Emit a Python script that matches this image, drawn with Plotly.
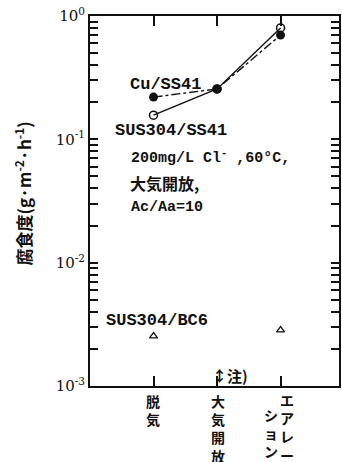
import plotly.graph_objects as go

categories = [0, 1, 2]
cu_ss41 = [0.22, 0.256, 0.70]
sus_ss41 = [0.157, 0.256, 0.80]
bc6_x = [0, 2]
bc6 = [0.00254, 0.00284]
ytick_vals = [1e-3, 1e-2, 1e-1, 1]
ytick_text = ["10<sup>-3</sup>", "10<sup>-2</sup>", "10<sup>-1</sup>", "10<sup>0</sup>"]
all_vals = [m * 10 ** e for e in (-3, -2, -1) for m in range(1, 10)] + [1]
all_text = [(ytick_text[ytick_vals.index(v)] if v in ytick_vals else "") for v in all_vals]

JP = "Noto Sans CJK JP"
MONO = "Liberation Mono"
W, H = 342, 462
L, R, T, B = 90, 1, 16, 76
PW, PH = W - L - R, H - T - B

fig = go.Figure()
fig.add_trace(go.Scatter(x=categories, y=sus_ss41, mode="lines+markers",
                         line=dict(color="#111", width=1.4),
                         marker=dict(symbol="circle-open", size=8, color="#111", line=dict(width=1.5))))
fig.add_trace(go.Scatter(x=categories, y=cu_ss41, mode="lines+markers",
                         line=dict(color="#111", width=1.4, dash="dashdot"),
                         marker=dict(symbol="circle", size=9, color="#111")))
fig.add_trace(go.Scatter(x=bc6_x, y=bc6, mode="markers",
                         marker=dict(symbol="triangle-up-open", size=7, color="#111", line=dict(width=1.3))))

fig.update_layout(
    width=W, height=H, showlegend=False,
    margin=dict(l=L, r=R, t=T, b=B),
    plot_bgcolor="white", paper_bgcolor="white",
    font=dict(family=MONO, color="#111"),
    xaxis=dict(range=[-1, 2.92], showline=True, linewidth=2, linecolor="#111", mirror="ticks",
               tickvals=categories, ticktext=["", "", ""], ticks="inside", ticklen=10, tickwidth=2,
               tickcolor="#111", showgrid=False, zeroline=False),
    yaxis=dict(type="log", range=[-3, 0], showline=True, linewidth=2, linecolor="#111", mirror="ticks",
               tickmode="array", tickvals=all_vals, ticktext=all_text, ticks="inside", ticklen=8,
               tickwidth=1.8, tickcolor="#111", showgrid=False,
               tickfont=dict(family="DejaVu Serif", size=15, color="#111")),
)

ann = []
def add(text, x, y, size=16, family=MONO, xanchor="center", yanchor="middle", **kw):
    ann.append(dict(text=text, x=x, y=y, xref="paper", yref="paper", showarrow=False,
                    font=dict(size=size, family=family, color="#111"),
                    xanchor=xanchor, yanchor=yanchor, **kw))

def px(x, y):
    return (x - L) / PW, (H - B - y) / PH

x0, y0 = px(128, 84); add("<b>Cu/SS41</b>", x0, y0, size=17, xanchor="left")
x0, y0 = px(113, 130); add("<b>SUS304/SS41</b>", x0, y0, size=17, xanchor="left")
x0, y0 = px(129, 157); add("<b>200mg/L Cl<sup>-</sup> ,60°C,</b>", x0, y0, size=15, xanchor="left")
x0, y0 = px(128, 183); add("<b>大気開放,</b>", x0, y0, size=16, family=JP, xanchor="left")
x0, y0 = px(129, 207); add("<b>Ac/Aa=10</b>", x0, y0, size=15, xanchor="left")
x0, y0 = px(104, 320); add("<b>SUS304/BC6</b>", x0, y0, size=17, xanchor="left")
x0, y0 = px(211, 375); add("<b>↕注)</b>", x0, y0, size=15, family=JP, xanchor="left")

columns = [(154, 389, "脱気"), (219, 389, "大気開放"), (289, 388, "エアレー"), (272, 403, "ション")]
for xpix, ytop, txt in columns:
    x0, y0 = px(xpix, ytop)
    add("<b>" + "<br>".join(txt) + "</b>", x0, y0, size=14, family=JP, yanchor="top")

x0, y0 = px(22, 194)
add("<b>腐食度(g·m<sup>-2</sup>·h<sup>-1</sup>)</b>", x0, y0, size=17, family=JP, textangle=-90)

fig.update_layout(annotations=ann)
fig.write_html("out.html")
